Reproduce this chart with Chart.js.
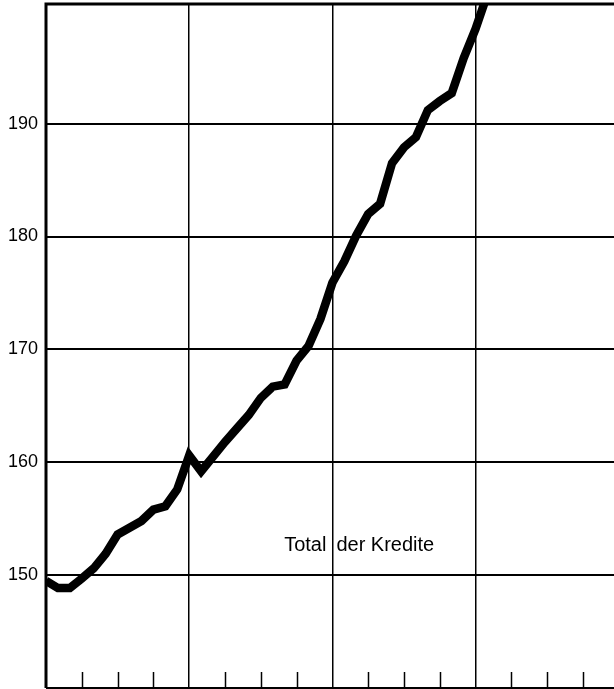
<!DOCTYPE html>
<html>
<head>
<meta charset="utf-8">
<script src="https://cdn.jsdelivr.net/npm/chart.js@4"></script>
<style>
  html, body { margin: 0; padding: 0; background: #fff; }
</style>
</head>
<body>
<canvas id="myChart" width="614" height="689"></canvas>
<script>
// month index (0 = first month of the first year)
const months = [0, 1, 2, 3, 4, 5, 6, 7, 8, 9, 10, 11,
                12, 13, 14, 15, 16, 17, 18, 19, 20, 21, 22, 23,
                24, 25, 26, 27, 28, 29, 30, 31, 32, 33, 34, 35,
                36, 37];
const kredite = [149.5, 148.85, 148.85, 149.7, 150.6, 151.9, 153.6, 154.2, 154.8, 155.8, 156.1, 157.6,
                 160.6, 159.2, 160.5, 161.8, 163.0, 164.2, 165.7, 166.7, 166.9, 169.0, 170.3, 172.7,
                 175.9, 177.8, 180.1, 182.0, 182.9, 186.5, 187.9, 188.8, 191.2, 192.0, 192.7, 195.8,
                 198.4, 201.5];
const yTicks = [150, 160, 170, 180, 190];
const quarterTicks = [0, 3, 6, 9, 12, 15, 18, 21, 24, 27, 30, 33, 36, 39, 42, 45];
const seriesLabel = ['Total', 'der Kredite'];

Chart.defaults.font.family = '"Liberation Sans", Arial, sans-serif';
Chart.defaults.color = '#000';

const frame = {
    id: 'frame',
    afterDraw(chart) {
        const ctx = chart.ctx;
        const a = chart.chartArea;
        const x = chart.scales.x;
        const y = chart.scales.y;
        ctx.save();
        ctx.strokeStyle = '#000';
        ctx.lineWidth = 3;
        ctx.beginPath();
        ctx.moveTo(a.left, a.bottom);
        ctx.lineTo(a.left, a.top);
        ctx.lineTo(a.right, a.top);
        ctx.stroke();

        ctx.lineWidth = 2;
        ctx.beginPath();
        ctx.moveTo(a.left, a.bottom);
        ctx.lineTo(a.right, a.bottom);
        ctx.stroke();

        // short quarter ticks along the bottom
        ctx.lineWidth = 1.5;
        ctx.beginPath();
        quarterTicks.forEach(v => {
            if (v % 12 !== 0) {
                const px = Math.round(x.getPixelForValue(v)) + 0.5;
                ctx.moveTo(px, a.bottom);
                ctx.lineTo(px, a.bottom - 16);
            }
        });
        ctx.stroke();

        // series label, split by the year line
        const gx = x.getPixelForValue(24);
        const ty = y.getPixelForValue(152.1);
        ctx.fillStyle = '#000';
        ctx.font = '20px "Liberation Sans", Arial, sans-serif';
        ctx.textBaseline = 'alphabetic';
        ctx.textAlign = 'right';
        ctx.fillText(seriesLabel[0], gx - 6, ty);
        ctx.textAlign = 'left';
        ctx.fillText(seriesLabel[1], gx + 4, ty);
        ctx.restore();
    }
};

const ctx = document.getElementById('myChart').getContext('2d');
const myChart = new Chart(ctx, {
    type: 'line',
    data: {
        datasets: [{
            label: 'Total der Kredite',
            data: months.map((m, i) => ({ x: m, y: kredite[i] })),
            borderColor: '#000',
            borderWidth: 8.5,
            borderJoinStyle: 'miter',
            pointRadius: 0,
            tension: 0,
            fill: false
        }]
    },
    options: {
        responsive: false,
        animation: false,
        devicePixelRatio: 1,
        layout: { padding: { top: 4, right: 0, bottom: 0, left: 0 } },
        plugins: {
            legend: { display: false },
            tooltip: { enabled: false }
        },
        scales: {
            x: {
                type: 'linear',
                min: 0,
                max: 47.6,
                afterBuildTicks: s => { s.ticks = quarterTicks.map(v => ({ value: v })); },
                afterFit: s => {
                    s.height = 1;
                    s.paddingLeft = 0; s.paddingRight = 0;
                    s.paddingTop = 0; s.paddingBottom = 0;
                },
                ticks: { display: false },
                border: { display: false },
                grid: {
                    drawTicks: false,
                    lineWidth: 1.5,
                    color: c => (c.tick && c.tick.value > 0 && c.tick.value % 12 === 0) ? '#000' : 'rgba(0,0,0,0)'
                }
            },
            y: {
                min: 140,
                max: 200.6,
                afterBuildTicks: s => { s.ticks = yTicks.map(v => ({ value: v })); },
                afterFit: s => {
                    s.width = 46;
                    s.paddingTop = 0; s.paddingBottom = 0;
                    s.paddingLeft = 0; s.paddingRight = 0;
                },
                ticks: {
                    padding: 8,
                    font: { size: 18 },
                    color: '#000'
                },
                border: { display: false },
                grid: {
                    drawTicks: false,
                    lineWidth: 2,
                    color: '#000'
                }
            }
        }
    },
    plugins: [frame]
});
</script>
</body>
</html>
